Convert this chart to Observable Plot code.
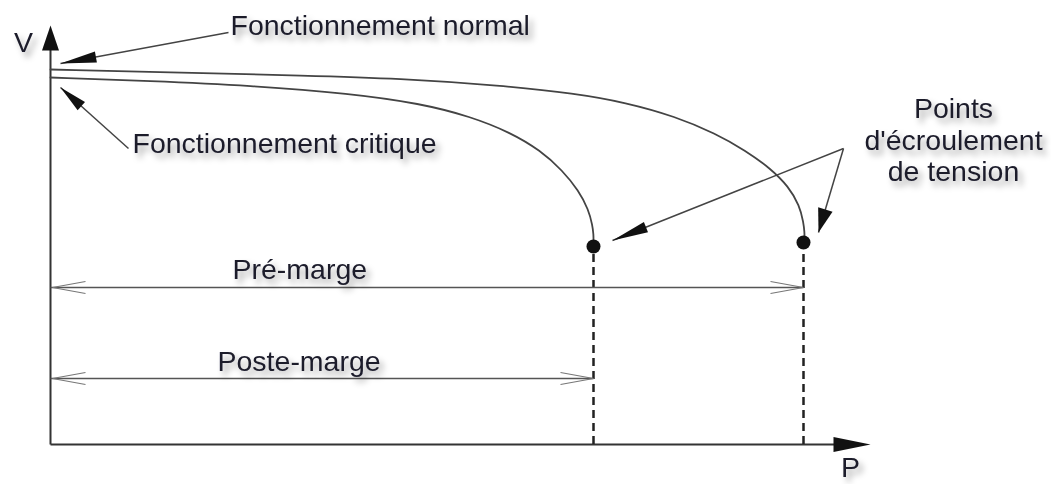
<!DOCTYPE html>
<html>
<head>
<meta charset="utf-8">
<script src="https://cdn.jsdelivr.net/npm/d3@7"></script>
<script src="https://cdn.jsdelivr.net/npm/@observablehq/plot@0.6"></script>
<style>
  html, body { margin: 0; padding: 0; background: #fff; }
  #chart { width: 1051px; height: 484px; overflow: hidden; }
</style>
</head>
<body>
<div id="chart"></div>
<script>
// ---- Data (P: puissance, V: tension, unités arbitraires) ----
const normalP = [0, 1.5, 2.5, 3.5, 4.5, 5.25, 5.75, 6.25, 6.65, 6.95, 7.2, 7.38, 7.49, 7.53, 7.54, 7.54];
const normalV = [0.9375, 0.92875, 0.9225, 0.915, 0.8975, 0.8775, 0.855, 0.82, 0.7775, 0.735, 0.69, 0.645, 0.5975, 0.555, 0.53, 0.5175];
const criticalP = [0, 1.0, 2.0, 3.0, 3.7, 4.2, 4.6, 4.9, 5.12, 5.28, 5.38, 5.42, 5.43, 5.43];
const criticalV = [0.9175, 0.90875, 0.8975, 0.8775, 0.8525, 0.82, 0.78, 0.735, 0.685, 0.635, 0.5875, 0.5475, 0.525, 0.51];
const collapseP = [5.43, 7.53];
const collapseV = [0.495, 0.505];
const preMargeV = 0.3925;
const posteMargeV = 0.165;
const axisTipP = 8.2;
const axisTipV = 1.0475;

const labels = ["Fonctionnement normal", "Fonctionnement critique", "Pré-marge", "Poste-marge", "Points\nd'écroulement\nde tension", "V", "P"];
const labelP = [1.8, 0.82, 1.82, 1.67, 9.03, -0.27, 8.0];
const labelV = [1.0475, 0.7525, 0.4375, 0.2075, 0.7625, 1.0075, -0.055];
const labelAnchor = ["start", "start", "start", "start", "middle", "middle", "middle"];

// annotation arrows: tail -> tip
const annTailP = [1.78, 0.78, 7.93, 7.93];
const annTailV = [1.03, 0.74, 0.74, 0.74];
const annTipP = [0.10, 0.10, 5.62, 7.68];
const annTipV = [0.9525, 0.8925, 0.51, 0.53];
const annHeadL = [36, 28, 36, 24];
const annHeadW = [11, 11, 11, 15];

// ---- Scale geometry ----
const W = 1051, H = 484, mL = 50, mB = 40;
const xDomain = [0, 10.01], yDomain = [0, 1.11];
const pxX = (W - mL) / (xDomain[1] - xDomain[0]);
const pxY = (H - mB) / (yDomain[1] - yDomain[0]);
const angle = (p1, v1, p2, v2) => Math.atan2(-(v2 - v1) * pxY, (p2 - p1) * pxX) * 180 / Math.PI;

const filledHead = (L, w) => ({ draw(ctx) { ctx.moveTo(0, 0); ctx.lineTo(-L, -w / 2); ctx.lineTo(-L, w / 2); ctx.closePath(); } });
const openHead = (L, w) => ({ draw(ctx) { ctx.moveTo(-L, -w / 2); ctx.lineTo(0, 0); ctx.lineTo(-L, w / 2); } });

const normal = normalP.map((p, i) => ({ P: p, V: normalV[i] }));
const critical = criticalP.map((p, i) => ({ P: p, V: criticalV[i] }));
const collapse = collapseP.map((p, i) => ({ P: p, V: collapseV[i] }));
const textRows = labels.map((t, i) => ({ t, P: labelP[i], V: labelV[i], a: labelAnchor[i] }));
const margins = [
  { P1: 0, P2: collapseP[1], V: preMargeV },
  { P1: 0, P2: collapseP[0], V: posteMargeV }
];

const font = "Liberation Sans, Arial, sans-serif";
const marks = [];

// axes
marks.push(Plot.link([{}], { x1: 0, y1: 0, x2: 0, y2: axisTipV - 0.05, stroke: "#333", strokeWidth: 2 }));
marks.push(Plot.link([{}], { x1: 0, y1: 0, x2: axisTipP - 0.3, y2: 0, stroke: "#333", strokeWidth: 2 }));
marks.push(Plot.dot([{}], { x: 0, y: axisTipV, symbol: filledHead(25, 17), rotate: -90, fill: "#111", stroke: "none" }));
marks.push(Plot.dot([{}], { x: axisTipP, y: 0, symbol: filledHead(37, 15), rotate: 0, fill: "#111", stroke: "none" }));

// dashed verticals
marks.push(Plot.ruleX(collapse, { x: "P", y1: 0, y2: d => d.V - 0.015, stroke: "#222", strokeWidth: 2.5, strokeDasharray: "8,5" }));

// margin double arrows
marks.push(Plot.link(margins, { x1: "P1", x2: "P2", y1: "V", y2: "V", stroke: "#555", strokeWidth: 1.5 }));
marks.push(Plot.dot(margins, { x: "P2", y: "V", symbol: openHead(33, 12), rotate: 0, fill: "none", stroke: "#777", strokeWidth: 1.2 }));
marks.push(Plot.dot(margins, { x: d => d.P1 + 0.02, y: "V", symbol: openHead(33, 12), rotate: 180, fill: "none", stroke: "#777", strokeWidth: 1.2 }));

// curves
marks.push(Plot.line(normal, { x: "P", y: "V", curve: "basis", stroke: "#444", strokeWidth: 1.8 }));
marks.push(Plot.line(critical, { x: "P", y: "V", curve: "basis", stroke: "#444", strokeWidth: 1.8 }));
marks.push(Plot.dot(collapse, { x: "P", y: "V", r: 7, fill: "#111", stroke: "none" }));

// annotation arrows
annTailP.forEach((p, i) => {
  const d = { x1: p, y1: annTailV[i], x2: annTipP[i], y2: annTipV[i] };
  marks.push(Plot.link([d], { x1: "x1", y1: "y1", x2: "x2", y2: "y2", stroke: "#444", strokeWidth: 1.5 }));
  marks.push(Plot.dot([d], { x: "x2", y: "y2", symbol: filledHead(annHeadL[i], annHeadW[i]), rotate: angle(d.x1, d.y1, d.x2, d.y2), fill: "#111", stroke: "none" }));
});

// texts
marks.push(Plot.text(textRows.filter(d => d.a === "start"), { x: "P", y: "V", text: "t", textAnchor: "start", fontSize: 28.5, fontFamily: font, fill: "#1c1c2c", lineAnchor: "middle" }));
marks.push(Plot.text(textRows.filter(d => d.a === "middle"), { x: "P", y: "V", text: "t", textAnchor: "middle", fontSize: 28.5, fontFamily: font, fill: "#1c1c2c", lineAnchor: "middle", lineHeight: 1.1 }));

const chart = Plot.plot({
  width: W, height: H,
  marginLeft: mL, marginRight: 0, marginTop: 0, marginBottom: mB,
  x: { domain: xDomain, axis: null },
  y: { domain: yDomain, axis: null },
  style: { background: "white", overflow: "visible" },
  marks
});

// soft drop shadow under labels
const ns = "http://www.w3.org/2000/svg";
const defs = document.createElementNS(ns, "defs");
const filter = document.createElementNS(ns, "filter");
filter.setAttribute("id", "txtshadow");
filter.setAttribute("x", "-20%"); filter.setAttribute("y", "-50%");
filter.setAttribute("width", "140%"); filter.setAttribute("height", "200%");
const fe = document.createElementNS(ns, "feDropShadow");
fe.setAttribute("dx", "4"); fe.setAttribute("dy", "5");
fe.setAttribute("stdDeviation", "3");
fe.setAttribute("flood-color", "#000"); fe.setAttribute("flood-opacity", "0.35");
filter.appendChild(fe); defs.appendChild(filter);
chart.insertBefore(defs, chart.firstChild);
chart.querySelectorAll('g[aria-label="text"]').forEach(g => g.setAttribute("filter", "url(#txtshadow)"));

document.getElementById("chart").appendChild(chart);
</script>
</body>
</html>
